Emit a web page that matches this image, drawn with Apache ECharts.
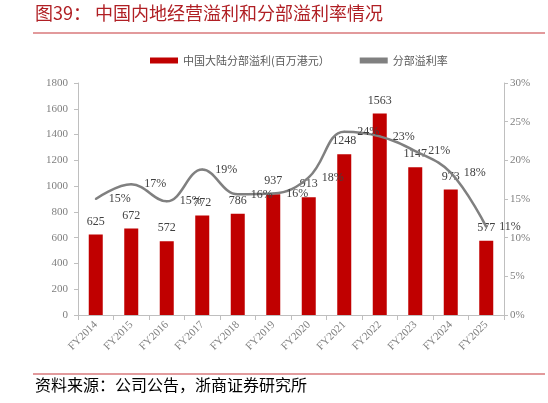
<!DOCTYPE html>
<html>
<head>
<meta charset="utf-8">
<script src="https://cdn.jsdelivr.net/npm/echarts@6/dist/echarts.min.js"></script>
<style>
  html, body { margin: 0; padding: 0; background: #fff; }
  #main { width: 548px; height: 403px; }
</style>
</head>
<body>
<div id="main"></div>
<script>
var years = ['FY2014', 'FY2015', 'FY2016', 'FY2017', 'FY2018', 'FY2019', 'FY2020', 'FY2021', 'FY2022', 'FY2023', 'FY2024', 'FY2025'];
var profit = [625, 672, 572, 772, 786, 937, 913, 1248, 1563, 1147, 973, 577];
// 分部溢利率 (%), labels are rounded
var margin = [15.0, 16.9, 14.7, 18.8, 15.6, 15.7, 17.8, 23.7, 23.1, 21.2, 18.4, 11.4];
var leftTicks = [0, 1800, 200];
var rightTicks = [0, 30, 5];

var serif = '"Liberation Serif", "Times New Roman", serif';
var cjk = '"Noto Sans CJK SC", sans-serif';

var myChart = echarts.init(document.getElementById('main'));

var option = {
  backgroundColor: '#fff',
  animation: false,
  textStyle: { fontFamily: serif },
  legend: {
    top: 50,
    left: 145,
    itemGap: 30,
    itemWidth: 28,
    itemHeight: 6,
    textStyle: { fontFamily: cjk, fontSize: 11, color: '#595959' },
    data: [
      { name: '中国大陆分部溢利(百万港元）', icon: 'rect' },
      { name: '分部溢利率', icon: 'rect', itemStyle: { color: '#808080', opacity: 1 } }
    ]
  },
  grid: {
    left: 78,
    right: 44,
    top: 83,
    bottom: 88
  },
  xAxis: {
    type: 'category',
    data: years,
    axisLine: { lineStyle: { color: '#bfbfbf' } },
    axisTick: { show: true, length: 5, lineStyle: { color: '#bfbfbf' } },
    axisLabel: { rotate: 45, color: '#7f7f7f', fontSize: 11, fontFamily: serif, margin: 8 }
  },
  yAxis: [{
    type: 'value',
    min: leftTicks[0],
    max: leftTicks[1],
    interval: leftTicks[2],
    splitLine: { show: false },
    axisLine: { show: true, lineStyle: { color: '#bfbfbf' } },
    axisTick: { show: true, length: 4, lineStyle: { color: '#bfbfbf' } },
    axisLabel: { color: '#7f7f7f', fontSize: 11, fontFamily: serif, margin: 10, formatter: function (v) { return String(v); } }
  }, {
    type: 'value',
    min: rightTicks[0],
    max: rightTicks[1],
    interval: rightTicks[2],
    splitLine: { show: false },
    axisLine: { show: true, lineStyle: { color: '#bfbfbf' } },
    axisTick: { show: true, length: 4, lineStyle: { color: '#bfbfbf' } },
    axisLabel: { color: '#7f7f7f', fontSize: 11, fontFamily: serif, margin: 6, formatter: '{value}%' }
  }],
  series: [{
    name: '中国大陆分部溢利(百万港元）',
    type: 'bar',
    data: profit,
    barWidth: 14,
    itemStyle: { color: '#C00000' },
    label: {
      show: true,
      position: 'top',
      distance: 7,
      color: '#404040',
      fontSize: 12,
      fontFamily: serif
    }
  }, {
    name: '分部溢利率',
    type: 'line',
    yAxisIndex: 1,
    data: margin,
    smooth: 0.4,
    symbol: 'circle',
    symbolSize: 2,
    showSymbol: true,
    showAllSymbol: true,
    lineStyle: { color: '#808080', width: 2.5 },
    itemStyle: { color: '#808080' },
    label: {
      show: true,
      position: 'right',
      distance: 12,
      offset: [0, 3],
      color: '#404040',
      fontSize: 12,
      fontFamily: serif,
      formatter: function (p) { return Math.round(p.value) + '%'; }
    },
    labelLayout: { hideOverlap: false },
    z: 3
  }],
  graphic: [{
    type: 'text',
    left: 35,
    top: 4,
    style: {
      text: '图39：',
      fill: '#B01F24',
      font: '18px "Noto Sans CJK SC", sans-serif'
    }
  }, {
    type: 'text',
    left: 95,
    top: 4,
    style: {
      text: '中国内地经营溢利和分部溢利率情况',
      fill: '#B01F24',
      font: '18px "Noto Sans CJK SC", sans-serif'
    }
  }, {
    type: 'line',
    shape: { x1: 33, y1: 33, x2: 545, y2: 33 },
    style: { stroke: '#D9797B', lineWidth: 1.5 }
  }, {
    type: 'line',
    shape: { x1: 33, y1: 374, x2: 545, y2: 374 },
    style: { stroke: '#D9797B', lineWidth: 1.5 }
  }, {
    type: 'text',
    left: 35,
    top: 377,
    style: {
      text: '资料来源：公司公告，浙商证券研究所',
      fill: '#000',
      font: '16px "Noto Sans CJK SC", sans-serif'
    }
  }]
};

myChart.setOption(option);
</script>
</body>
</html>
